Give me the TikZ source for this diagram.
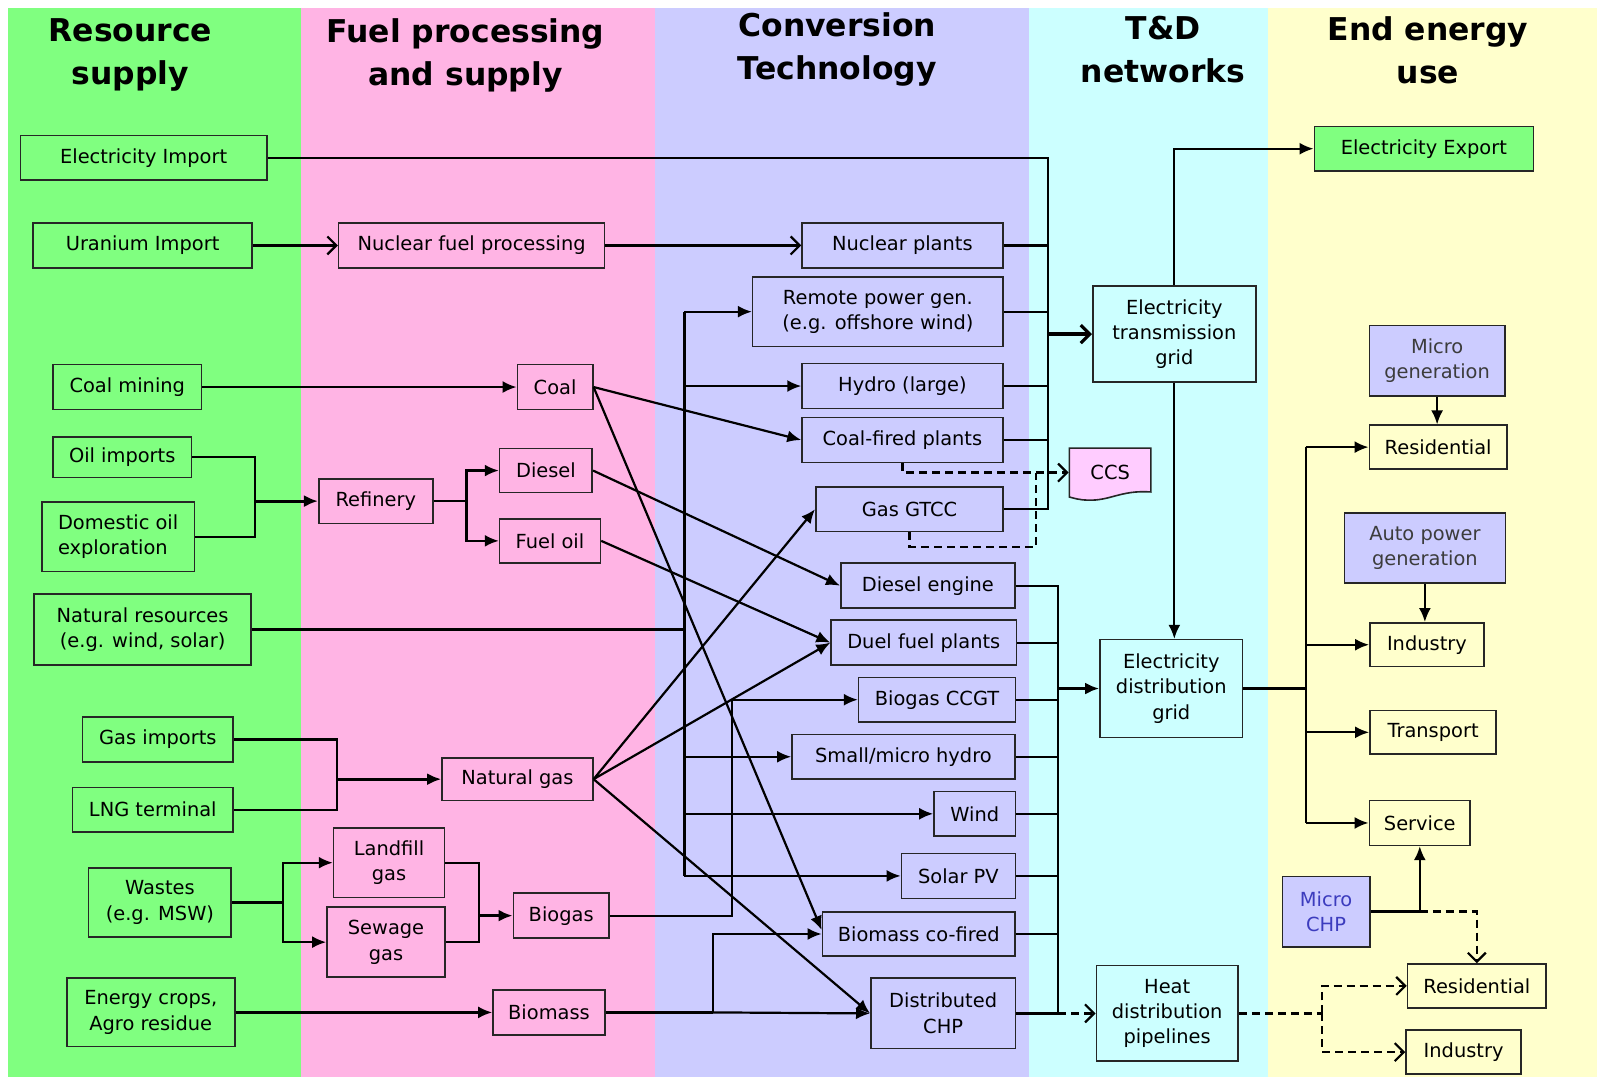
\documentclass[tikz,border=0pt]{standalone}
\usepackage{fontspec}
\setmainfont{DejaVu Sans}
\usetikzlibrary{arrows.meta}
\definecolor{resgreen}{RGB}{128,255,128}
\definecolor{fuelpink}{RGB}{255,180,228}
\definecolor{convblue}{RGB}{204,204,255}
\definecolor{netcyan}{RGB}{204,255,255}
\definecolor{useyellow}{RGB}{255,255,204}
\definecolor{ccspink}{RGB}{255,204,255}
\definecolor{chpblue}{RGB}{60,60,190}
\definecolor{gentext}{RGB}{60,60,60}
\tikzset{
  boxbase/.style={draw=black!85, line width=0.8pt, inner sep=0pt, align=center,
    font=\fontsize{9.7}{12.7}\selectfont},
  resbox/.style={boxbase, fill=resgreen},
  fuelbox/.style={boxbase, fill=fuelpink},
  convbox/.style={boxbase, fill=convblue},
  netbox/.style={boxbase, fill=netcyan},
  usebox/.style={boxbase, fill=useyellow},
  genbox/.style={boxbase, fill=convblue, text=gentext},
  wh/.style 2 args={minimum width=#1*0.509pt, minimum height=#2*0.509pt},
  head/.style={align=center, inner sep=0pt, font=\fontsize{15.7}{21.5}\selectfont\bfseries},
  link/.style={line width=1.1pt},
  dashedlink/.style={line width=1.1pt, dash pattern=on 4pt off 2.5pt},
  flow/.style={-{Latex[length=7pt,width=6pt]}, line width=1.1pt},
  thickflow/.style={-{Latex[length=7pt,width=6pt]}, line width=1.6pt},
  openflow/.style={-{Straight Barb[length=4.5pt,width=9pt]}, line width=1.1pt},
  dashedflow/.style={openflow, dash pattern=on 4pt off 2.5pt}
}
\begin{document}
\begin{tikzpicture}[x=0.509pt, y=-0.509pt]
\useasboundingbox (0,0) rectangle (1568,1057);
% Bands
\fill[white] (0,0) rectangle (1568,1057);
\fill[resgreen] (8,8) rectangle (296,1057);
\fill[fuelpink] (296,8) rectangle (643,1057);
\fill[convblue] (643,8) rectangle (1010,1057);
\fill[netcyan] (1010,8) rectangle (1245,1057);
\fill[useyellow] (1245,8) rectangle (1568,1057);

% Headings
\node[head] (hres) at (128,54) {Resource\\supply};
\node[head] (hfuel) at (457,54) {Fuel processing\\and supply};
\node[head] (hconv) at (822,49) {Conversion\\Technology};
\node[head] (htd) at (1142,49) {T\&D\\networks};
\node[head] (huse) at (1402,49) {End energy\\use};

% Resource supply
\node[resbox, wh={242}{44}] (elimp) at (141,155) {Electricity Import};
\node[resbox, wh={215}{44}] (uranimp) at (140,241) {Uranium Import};
\node[resbox, wh={146}{44}] (coalmin) at (125,380) {Coal mining};
\node[resbox, wh={136}{40}] (oilimp) at (120,449) {Oil imports};
\node[resbox, wh={150}{68}, align=left] (domoil) at (116,527) {Domestic oil\\exploration};
\node[resbox, wh={213}{70}] (natres) at (140,618) {Natural resources\\(e.g. wind, solar)};
\node[resbox, wh={148}{44}] (gasimp) at (155,726) {Gas imports};
\node[resbox, wh={158}{44}] (lng) at (150,795) {LNG terminal};
\node[resbox, wh={140}{68}] (wastes) at (157,886) {Wastes\\(e.g. MSW)};
\node[resbox, wh={165}{67}] (crops) at (148,994) {Energy crops,\\Agro residue};

% Fuel processing and supply
\node[fuelbox, wh={261}{44}] (nucfuel) at (463,241) {Nuclear fuel processing};
\node[fuelbox, wh={74}{44}] (coal) at (545,380) {Coal};
\node[fuelbox, wh={112}{44}] (refinery) at (369,492) {Refinery};
\node[fuelbox, wh={91}{43}] (diesel) at (536,462) {Diesel};
\node[fuelbox, wh={99}{43}] (fueloil) at (540,531) {Fuel oil};
\node[fuelbox, wh={148}{42}] (natgas) at (508,765) {Natural gas};
\node[fuelbox, wh={109}{68}] (landfill) at (382,847) {Landfill\\gas};
\node[fuelbox, wh={116}{69}] (sewage) at (379,925) {Sewage\\gas};
\node[fuelbox, wh={94}{44}] (biogas) at (551,899) {Biogas};
\node[fuelbox, wh={110}{44}] (biomass) at (539,994) {Biomass};

% Conversion technology
\node[convbox, wh={197}{44}] (nucpl) at (886,241) {Nuclear plants};
\node[convbox, wh={246}{68}] (remote) at (862,306) {Remote power gen.\\(e.g. offshore wind)};
\node[convbox, wh={197}{44}] (hydro) at (886,379) {Hydro (large)};
\node[convbox, wh={197}{44}] (coalfired) at (886,432) {Coal-fired plants};
\node[convbox, wh={184}{44}] (gtcc) at (893,500) {Gas GTCC};
\node[convbox, wh={171}{44}] (dieseleng) at (911,575) {Diesel engine};
\node[convbox, wh={182}{44}] (dualfuel) at (907,631) {Duel fuel plants};
\node[convbox, wh={154}{44}] (bioccgt) at (920,687) {Biogas CCGT};
\node[convbox, wh={219}{44}] (smallhydro) at (887,743) {Small/micro hydro};
\node[convbox, wh={80}{44}] (wind) at (957,799) {Wind};
\node[convbox, wh={112}{44}] (solar) at (941,860) {Solar PV};
\node[convbox, wh={189}{43}] (biocofired) at (902,917) {Biomass co-fired};
\node[convbox, wh={142}{69}] (dchp) at (926,995) {Distributed\\CHP};

% CCS
\filldraw[fill=ccspink, draw=black!85, line width=0.8pt] (1050,440) -- (1130,440) -- (1130,483)
  .. controls (1100,481) and (1090,492) .. (1068,491)
  .. controls (1060,491) and (1054,489) .. (1050,488) -- cycle;
\node[boxbase, draw=none, wh={80}{48}] (ccs) at (1090,464) {CCS};

% T&D networks
\node[netbox, wh={160}{94}] (trans) at (1153,328) {Electricity\\transmission\\grid};
\node[netbox, wh={140}{96}] (dist) at (1150,676) {Electricity\\distribution\\grid};
\node[netbox, wh={139}{94}] (heat) at (1146,995) {Heat\\distribution\\pipelines};

% End energy use
\node[resbox, wh={215}{44}] (export) at (1398,146) {Electricity Export};
\node[genbox, wh={133}{69}] (microgen) at (1411,354) {Micro\\generation};
\node[usebox, wh={135}{43}] (res) at (1412,439) {Residential};
\node[genbox, wh={158}{69}] (autopow) at (1399,538) {Auto power\\generation};
\node[usebox, wh={112}{43}] (ind) at (1401,633) {Industry};
\node[usebox, wh={124}{43}] (transp) at (1407,719) {Transport};
\node[usebox, wh={99}{44}] (serv) at (1394,808) {Service};
\node[genbox, wh={86}{69}, text=chpblue] (mchp) at (1302,895) {Micro\\CHP};
\node[usebox, wh={136}{43}] (res2) at (1450,968) {Residential};
\node[usebox, wh={113}{43}] (ind2) at (1437,1033) {Industry};

% Supply to fuels
\draw[openflow] (uranimp.east) -- (nucfuel.west);
\draw[openflow] (nucfuel.east) -- (nucpl.west);
\draw[flow] (coalmin.east) -- (coal.west);
\coordinate (oilj) at (250,492);
\draw[link] (oilimp.east) -| (oilj |- domoil.east) -- (domoil.east);
\draw[thickflow] (oilj) -- (refinery.west);
\coordinate (refj) at (458,492);
\draw[link] (refinery.east) -- (refj);
\draw[flow] (refj) |- (diesel.west);
\draw[flow] (refj) |- (fueloil.west);
\coordinate (gasj) at (331,765);
\draw[link] (gasimp.east) -| (gasj |- lng.east) -- (lng.east);
\draw[thickflow] (gasj) -- (natgas.west);
\coordinate (wj) at (278,886);
\draw[line width=1.6pt] (wastes.east) -- (wj);
\draw[flow] (wj) |- (landfill.west);
\draw[flow] (wj) |- (sewage.west);
\coordinate (bj) at (470,899);
\draw[link] (landfill.east) -| (bj |- sewage.east) -- (sewage.east);
\draw[thickflow] (bj) -- (biogas.west);
\draw[flow] (crops.east) -- (biomass.west);

% Fuels to conversion
\coordinate (nbus) at (672,618);
\draw[link] (natres.east) -- (nbus);
\draw[link] (nbus |- remote.west) -- (nbus |- solar.west);
\foreach \n in {remote,hydro,smallhydro,wind,solar}
  \draw[flow] (nbus |- \n.west) -- (\n.west);
\draw[flow] (coal.east) -- (coalfired.west);
\draw[flow] (coal.east) -- ([yshift=2pt]biocofired.west);
\draw[flow] (diesel.east) -- (dieseleng.west);
\draw[flow] (fueloil.east) -- (dualfuel.west);
\foreach \n in {gtcc,dualfuel,dchp}
  \draw[flow] (natgas.east) -- (\n.west);
\coordinate (bgj) at (719,687);
\draw[flow] (biogas.east) -| (bgj) -- (bioccgt.west);
\coordinate (bmj) at (700,994);
\draw[link] (biomass.east) -- (bmj);
\draw[flow] (bmj) |- (biocofired.west);
\draw[flow] (bmj) -- (dchp.west);

% Conversion to networks
\coordinate (tbus) at (1029,500);
\draw[link] (elimp.east) -| (tbus) -- (gtcc.east);
\foreach \n in {nucpl,remote,hydro,coalfired}
  \draw[link] (\n.east) -- (\n.east -| tbus);
\draw[openflow, line width=1.6pt] (trans.west -| tbus) -- (trans.west);
\draw[dashedflow] (coalfired.south) |- (ccs.west);
\coordinate (ccsj) at (1017,537);
\draw[dashedlink] (gtcc.south) |- (ccsj) -- (ccsj |- ccs.west);
\coordinate (dbus) at (1039,575);
\draw[link] (dieseleng.east) -- (dieseleng.east -| dbus) -- (dbus |- dchp.east) -- (dchp.east);
\foreach \n in {dualfuel,bioccgt,smallhydro,wind,solar,biocofired}
  \draw[link] (\n.east) -- (\n.east -| dbus);
\draw[thickflow] (dist.west -| dbus) -- (dist.west);
\draw[dashedflow] (dbus |- dchp.east) -- (heat.west);

% Networks to end use
\draw[flow] (trans.north) |- (export.west);
\draw[flow] (trans.south) -- (trans.south |- dist.north);
\coordinate (ej) at (1282,676);
\draw[line width=1.6pt] (dist.east) -- (ej);
\draw[link] (ej |- res.west) -- (ej |- serv.west);
\foreach \n in {res,ind,transp,serv}
  \draw[flow] (ej |- \n.west) -- (\n.west);
\draw[flow] (microgen.south) -- (microgen.south |- res.north);
\draw[flow] (autopow.south) -- (autopow.south |- ind.north);
\draw[flow] (mchp.east) -| (serv.south);
\draw[dashedflow] (serv.south |- mchp.east) -| (res2.north);
\coordinate (hj) at (1298,995);
\draw[dashedlink] (heat.east) -- (hj);
\draw[dashedflow] (hj) |- (res2.west);
\draw[dashedflow] (hj) |- (ind2.west);
\end{tikzpicture}
\end{document}
